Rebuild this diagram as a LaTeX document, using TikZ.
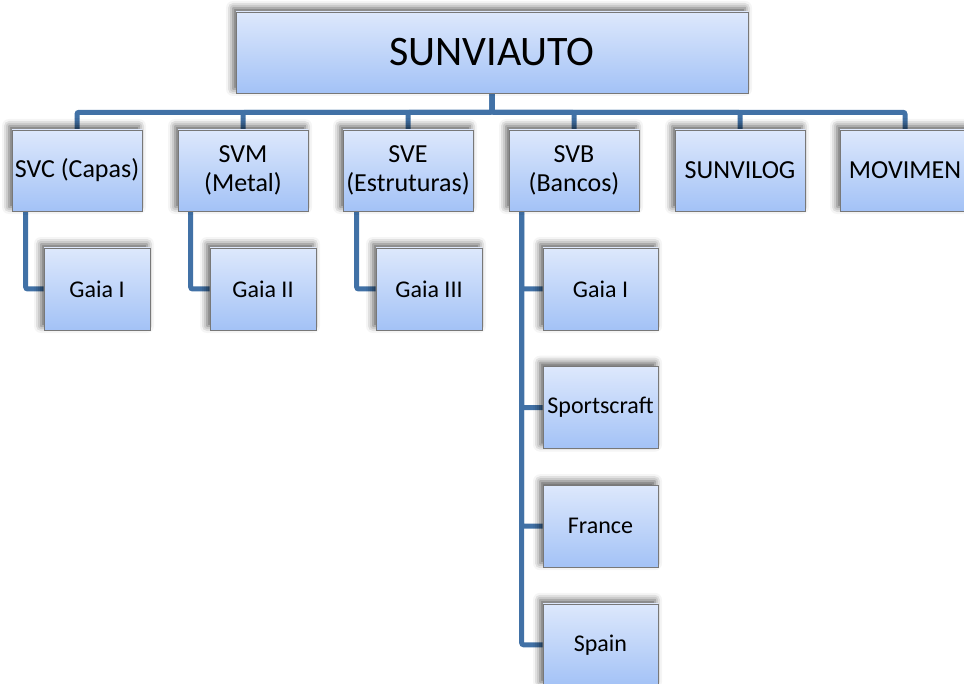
\documentclass[tikz,border=0pt]{standalone}
\usepackage{fontspec}
\setmainfont{Carlito}
\usetikzlibrary{
  positioning,
  backgrounds,
  shadows.blur,
}
\definecolor{boxtop}{RGB}{221,232,252}
\definecolor{boxbot}{RGB}{163,194,246}
\definecolor{boxline}{RGB}{120,120,120}
\definecolor{linkcol}{RGB}{65,113,166}
\tikzset{
  orgbox/.style={
    rectangle, draw=boxline, line width=0.6pt,
    top color=boxtop, bottom color=boxbot,
    align=center, inner sep=1pt,
    blur shadow={shadow xshift=-3pt, shadow yshift=4pt,
      shadow blur radius=7pt, shadow opacity=65}
  },
  rootbox/.style={orgbox, minimum width=512pt, minimum height=81pt,
    font=\fontsize{42}{47}\selectfont},
  deptbox/.style={orgbox, minimum width=130pt, minimum height=81pt,
    font=\fontsize{26}{29}\selectfont},
  unitbox/.style={orgbox, minimum width=106pt, minimum height=82pt,
    font=\fontsize{24}{28}\selectfont},
  seatbox/.style={unitbox, minimum width=115pt},
  link/.style={line width=5pt, linkcol, rounded corners=2pt},
}

\begin{document}
\begin{tikzpicture}[x=1pt, y=-1pt]
  \useasboundingbox (0,0) rectangle (964,684);

  % ── Top ──
  \node[rootbox] (root) at (492,52.5) {SUNVIAUTO};

  % ── Departments ──
  \node[deptbox] (svc)      at (77,170.5)  {SVC (Capas)};
  \node[deptbox] (svm)      at (243,170.5) {SVM\\(Metal)};
  \node[deptbox] (sve)      at (408,170.5) {SVE\\(Estruturas)};
  \node[deptbox] (svb)      at (574,170.5) {SVB\\(Bancos)};
  \node[deptbox] (sunvilog) at (740,170.5) {SUNVILOG};
  \node[deptbox] (movimen)  at (905,170.5) {MOVIMEN};

  % ── Units ──
  \node[unitbox] (svcgaia) at (97,289)  {Gaia I};
  \node[unitbox] (svmgaia) at (263,289) {Gaia II};
  \node[unitbox] (svegaia) at (429,289) {Gaia III};

  \node[seatbox] (svbgaia)   at (600.5,289)           {Gaia I};
  \node[seatbox] (svbsports) [below=36pt of svbgaia]   {Sportscraft};
  \node[seatbox] (svbfrance) [below=36pt of svbsports] {France};
  \node[seatbox] (svbspain)  [below=36pt of svbfrance] {Spain};

  % ── Links ──
  \begin{scope}[on background layer]
    \foreach \dept in {svc,svm,sve,svb,sunvilog,movimen}
      \draw[link] (root.south) -- ++(0,19) -| (\dept.north);

    \draw[link] ([xshift=14pt]svc.south west) |- (svcgaia.west);
    \draw[link] ([xshift=13pt]svm.south west) |- (svmgaia.west);
    \draw[link] ([xshift=14pt]sve.south west) |- (svegaia.west);
    \foreach \unit in {svbgaia,svbsports,svbfrance,svbspain}
      \draw[link] ([xshift=13pt]svb.south west) |- (\unit.west);
  \end{scope}

\end{tikzpicture}
\end{document}
